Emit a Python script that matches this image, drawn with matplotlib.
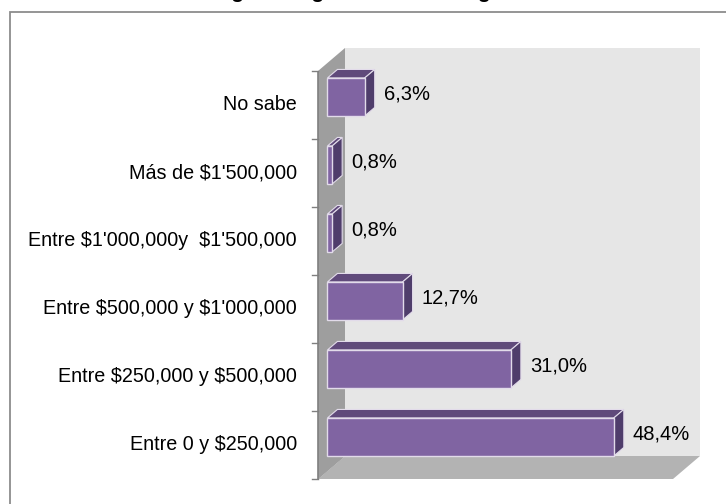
import matplotlib
matplotlib.use("Agg")
import matplotlib.pyplot as plt
from matplotlib.patches import Polygon, Rectangle

# ---- data (bottom to top) ----
categories = ["Entre 0 y $250,000", "Entre $250,000 y $500,000",
              "Entre $500,000 y $1'000,000", "Entre $1'000,000y  $1'500,000",
              "Más de $1'500,000", "No sabe"]
values = [48.4, 31.0, 12.7, 0.8, 0.8, 6.3]
value_labels = ["48,4%", "31,0%", "12,7%", "0,8%", "0,8%", "6,3%"]
title = "Rango de ingresos de los hogares"
x_max = 60

# ---- layout ----
W, H = 726, 504
FONT = "Liberation Sans"
fig = plt.figure(figsize=(W / 100, H / 100), dpi=100)
ax = fig.add_axes([0, 0, 1, 1])
ax.set_axis_off()

PX_X = 5.917   # pixels per percentage point
X0_PX = 318    # pixel of value 0 on the front plane
PX_Y = 68      # pixels per category
Y0_PX = 59     # pixel (from bottom) of first category centre
ax.set_xlim(-X0_PX / PX_X, (W - X0_PX) / PX_X)
ax.set_ylim(-Y0_PX / PX_Y, (H - Y0_PX) / PX_Y)

Dx, Dy = 27 / PX_X, 23 / PX_Y   # 3D depth vector in data units
y_lo, y_hi = -0.5, len(categories) - 0.5

# back wall
ax.add_patch(Rectangle((Dx, y_lo + Dy), x_max, y_hi - y_lo,
                       facecolor="#e6e6e6", edgecolor="none", zorder=1))
# left wall
ax.add_patch(Polygon([(0, y_lo), (0, y_hi), (Dx, y_hi + Dy), (Dx, y_lo + Dy)],
                     closed=True, facecolor="#9e9e9e", edgecolor="none", zorder=2))
# floor
ax.add_patch(Polygon([(0, y_lo), (x_max, y_lo), (x_max + Dx, y_lo + Dy), (Dx, y_lo + Dy)],
                     closed=True, facecolor="#b3b3b3", edgecolor="none", zorder=2))
ax.add_patch(Polygon([(0, y_lo), (Dx, y_lo + Dy), (0, y_lo + Dy)],
                     closed=True, facecolor="#9e9e9e", edgecolor="none", zorder=2))
# axis line and ticks
ax.plot([0, 0], [y_lo, y_hi], color="#7f7f7f", lw=1.2, zorder=3, solid_capstyle="butt")
for k in range(len(categories) + 1):
    ax.plot([-6 / PX_X, 0], [y_lo + k, y_lo + k], color="#7f7f7f", lw=1.0, zorder=3)

# bars
f, b = 0.35, 0.72
bh = 38 / PX_Y
front = "#8064a2"
top_c = "#604a7b"
side_c = "#4f3d6b"
edge = "#e2dbea"
for i, v in enumerate(values):
    xl = f * Dx
    xr = v + f * Dx
    yc = i + f * Dy
    yb, yt = yc - bh / 2, yc + bh / 2
    ddx, ddy = (b - f) * Dx, (b - f) * Dy
    ax.add_patch(Polygon([(xl, yt), (xr, yt), (xr + ddx, yt + ddy), (xl + ddx, yt + ddy)],
                         closed=True, facecolor=top_c, edgecolor=edge, lw=0.8, zorder=4))
    ax.add_patch(Polygon([(xr, yb), (xr, yt), (xr + ddx, yt + ddy), (xr + ddx, yb + ddy)],
                         closed=True, facecolor=side_c, edgecolor=edge, lw=0.8, zorder=4))
    ax.barh(yc, v, height=bh, left=xl, color=front, edgecolor=edge, lw=1.0, zorder=5)
    ax.text(xr + 19 / PX_X, yc + 0.04, value_labels[i], ha="left", va="center",
            fontsize=14.5, family=FONT, color="black", zorder=6, parse_math=False)

# category labels
for i, c in enumerate(categories):
    ax.text(-21 / PX_X, i, c, ha="right", va="center", fontsize=14.2,
            family=FONT, color="black", zorder=6, parse_math=False)

# chart frame (extends past the crop)
fig.add_artist(Rectangle((9.5 / W, -0.5), 2.0, 0.5 + 1 - 11.5 / H,
                         transform=fig.transFigure, fill=False,
                         edgecolor="#8c8c8c", lw=1.3))
# title (mostly cut off at the top)
fig.text(0.5, 1 + 1.5 / H, title, ha="center", va="baseline", fontsize=15,
         fontweight="bold", family=FONT, color="black", parse_math=False)

fig.savefig("out.png", dpi=100)
